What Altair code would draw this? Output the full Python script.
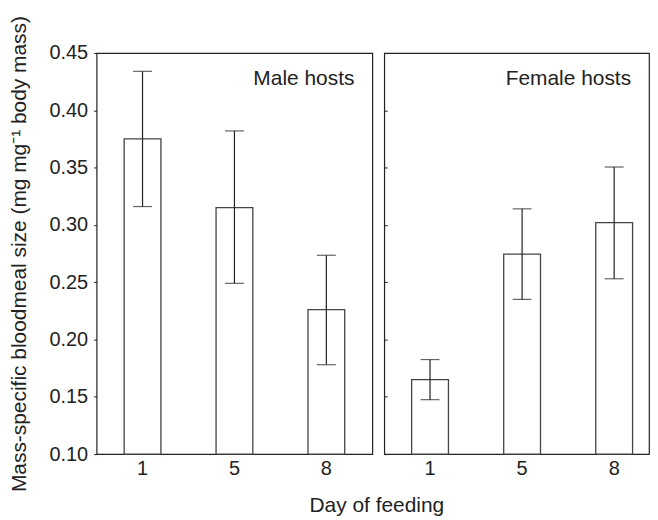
import altair as alt
import pandas as pd

days = ["1", "5", "8"]
male_mean = [0.375, 0.315, 0.226]
male_upper = [0.434, 0.382, 0.2735]
male_lower = [0.316, 0.249, 0.178]
female_mean = [0.165, 0.2745, 0.302]
female_upper = [0.1825, 0.314, 0.3505]
female_lower = [0.1475, 0.235, 0.253]
y_ticks = [0.10, 0.15, 0.20, 0.25, 0.30, 0.35, 0.40, 0.45]
y_title = "Mass-specific bloodmeal size (mg mg\u207b\u00b9 body mass)"
x_title = "Day of feeding"

FONT = "Liberation Sans"
INK = "#222222"
H = 403
YSCALE = alt.Scale(domain=[0.10, 0.45], nice=False, zero=False)


def panel(mean, upper, lower, label, width, xscale, yaxis):
    df = pd.DataFrame({"day": days, "mean": mean, "upper": upper,
                       "lower": lower, "base": [0.10] * len(days)})
    x = alt.X("day:N", sort=days, scale=xscale,
              axis=alt.Axis(title=None, labelAngle=0, ticks=False, domain=False,
                            labelFontSize=20, labelPadding=4, labelColor=INK,
                            labelFont=FONT))
    base = alt.Chart(df)
    bars = base.mark_bar(fill="white", stroke="#444444", strokeWidth=1.3).encode(
        x=x, y=alt.Y("mean:Q", scale=YSCALE, axis=yaxis), y2="base:Q")
    rule = base.mark_rule(color=INK, strokeWidth=1.2).encode(
        x=x, y=alt.Y("lower:Q"), y2="upper:Q")
    cap_hi = base.mark_tick(color=INK, thickness=1.2, size=19).encode(
        x=x, y=alt.Y("upper:Q"))
    cap_lo = base.mark_tick(color=INK, thickness=1.2, size=19).encode(
        x=x, y=alt.Y("lower:Q"))
    lab = base.transform_filter(alt.datum.day == "1").transform_calculate(
        lab=f"'{label}'"
    ).mark_text(align="right", baseline="alphabetic", fontSize=21, font=FONT,
                color=INK).encode(text="lab:N", x=alt.value(width - 18),
                                  y=alt.value(32))
    return [bars, rule, cap_hi, cap_lo, lab]


left_axis = alt.Axis(title=y_title, values=y_ticks, format=".2f", grid=False,
                     domain=False, tickSize=3, tickColor=INK, labelFontSize=20,
                     labelPadding=6, labelColor=INK, labelFont=FONT,
                     titleFont=FONT, titleFontSize=21, titleFontWeight="normal",
                     titleColor=INK, titlePadding=19)

right_axis = alt.Axis(title=None, values=y_ticks, labels=False, grid=False,
                      domain=False, tickSize=3, tickColor=INK, offset=-3)

left = alt.layer(*panel(male_mean, male_upper, male_lower, "Male hosts", 277,
                        alt.Scale(paddingInner=0.6, paddingOuter=0.3), left_axis)
                 ).properties(width=277, height=H)

right = alt.layer(*panel(female_mean, female_upper, female_lower, "Female hosts", 266,
                         alt.Scale(paddingInner=0.6, paddingOuter=0.238, align=0.625),
                         right_axis)).properties(width=266, height=H)

chart = alt.hconcat(left, right, spacing=9).properties(
    title=alt.TitleParams(x_title, orient="bottom", anchor="middle",
                          fontSize=21, font=FONT, fontWeight="normal", color=INK,
                          offset=3, dx=48),
    padding={"left": 0, "top": 5, "right": 0, "bottom": 0},
).configure_view(stroke=INK, strokeWidth=1.2)

chart.save("out.html", embed_options={"renderer": "svg", "actions": False})
